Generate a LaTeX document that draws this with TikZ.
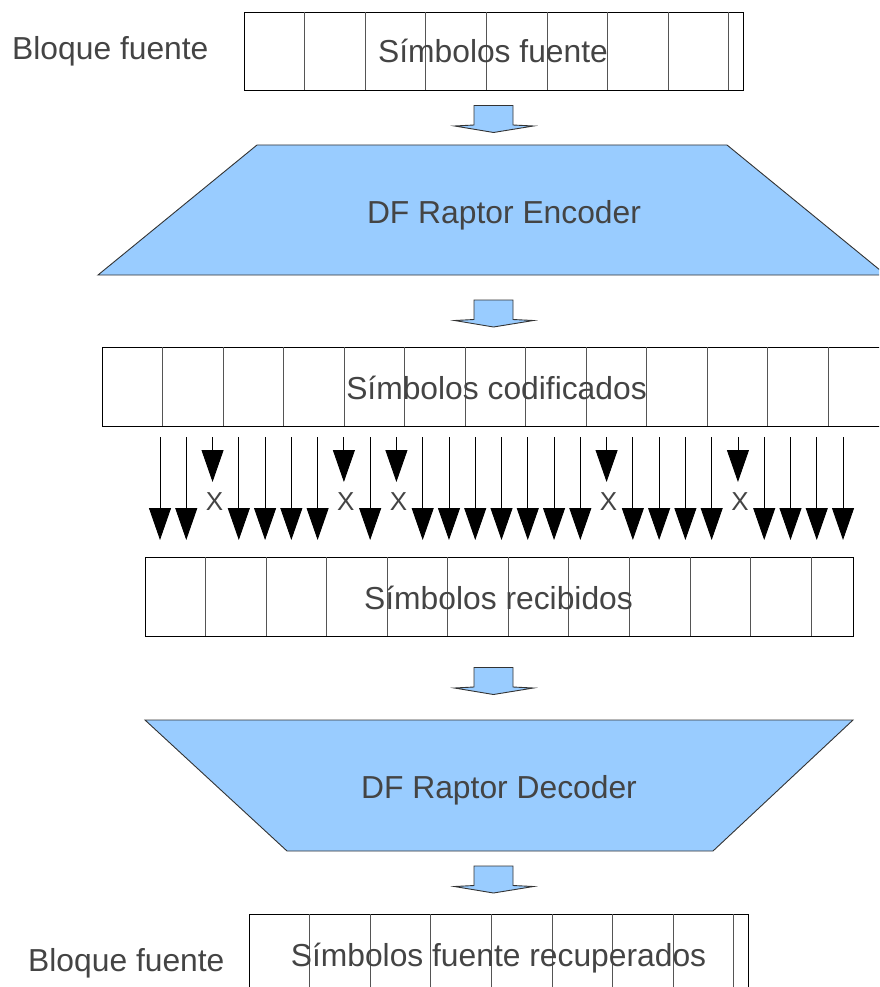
\documentclass[tikz,border=0pt]{standalone}
\usepackage{fontspec}
\setmainfont{Liberation Sans}
\usetikzlibrary{arrows.meta}
\definecolor{txt}{HTML}{444444}
\definecolor{fillblue}{HTML}{99CCFF}
\definecolor{edgec}{HTML}{333333}
\definecolor{cellc}{HTML}{555555}
\begin{document}
\begin{tikzpicture}[x=1pt,y=-1pt,
  lbl/.style={font=\fontsize{31.8}{38}\selectfont, text=txt, inner sep=0pt},
  xlbl/.style={font=\fontsize{26}{30}\selectfont, text=txt, inner sep=0pt},
  boxnode/.style={draw=black, line width=0.9pt, inner sep=0pt, anchor=north west},
  cellline/.style={draw=cellc, line width=0.9pt},
  trap/.style={draw=edgec, line width=0.9pt, fill=fillblue, line join=miter},
  barrow/.style={draw=edgec, line width=0.9pt, fill=fillblue, line join=miter},
  dnarrow/.style={draw=black, line width=0.9pt, -{Triangle[width=22pt,length=32pt]}}
]
\useasboundingbox (0,0) rectangle (879,987);
\clip (0,0) rectangle (879,987);

% ---------- top source block ----------
\node[boxnode, minimum width=499pt, minimum height=78pt] (src) at (244,12) {};
\foreach \i in {1,...,8} \draw[cellline] (244+\i*60.6,12) -- (244+\i*60.6,90);
\node[lbl, anchor=base] (srct) at (493,63) {Símbolos fuente};
\node[lbl, anchor=base west] (srcl) at (12,60) {Bloque fuente};

% ---------- block arrow 1 ----------
\draw[barrow, shift={(493.5,105.5)}] (-19.5,0) -- (19.5,0) -- (19.5,19.5) -- (40,20.5) -- (0,27) -- (-39,20.5) -- (-19.5,19.5) -- cycle;

% ---------- encoder ----------
\draw[trap] (257,145) -- (727,145) -- (886,275) -- (98,275) -- cycle;
\node[lbl, anchor=base] (enc) at (504,223) {DF Raptor Encoder};

% ---------- block arrow 2 ----------
\draw[barrow, shift={(493.5,300)}] (-19.5,0) -- (19.5,0) -- (19.5,19.5) -- (40,20.5) -- (0,27) -- (-39,20.5) -- (-19.5,19.5) -- cycle;

% ---------- encoded symbols ----------
\node[boxnode, minimum width=786.5pt, minimum height=79pt] (cod) at (102,347) {};
\foreach \i in {1,...,12} \draw[cellline] (102+\i*60.5,347) -- (102+\i*60.5,426);
\node[lbl, anchor=base] (codt) at (496.5,399) {Símbolos codificados};

% ---------- transmission arrows ----------
\foreach \k in {0,1,3,4,5,6,8,10,11,12,13,14,15,16,18,19,20,21,23,24,25,26}
  \draw[dnarrow] (160+\k*26.27,437) -- (160+\k*26.27,540);
\foreach \k [count=\n] in {2,7,9,17,22} {
  \draw[dnarrow] (160+\k*26.27,437) -- (160+\k*26.27,482);
  \node[xlbl, anchor=base] (x\n) at (162+\k*26.27,510) {X};
}

% ---------- received symbols ----------
\node[boxnode, minimum width=708pt, minimum height=79pt] (rec) at (145,557) {};
\foreach \i in {1,...,11} \draw[cellline] (145+\i*60.55,557) -- (145+\i*60.55,636);
\node[lbl, anchor=base] (rect) at (498.5,609) {Símbolos recibidos};

% ---------- block arrow 3 ----------
\draw[barrow, shift={(493.5,667.5)}] (-19.5,0) -- (19.5,0) -- (19.5,19.5) -- (40,20.5) -- (0,27) -- (-39,20.5) -- (-19.5,19.5) -- cycle;

% ---------- decoder ----------
\draw[trap] (145,720) -- (853,720) -- (713,851) -- (287,851) -- cycle;
\node[lbl, anchor=base] (dec) at (499,798) {DF Raptor Decoder};

% ---------- block arrow 4 ----------
\draw[barrow, shift={(493.5,866)}] (-19.5,0) -- (19.5,0) -- (19.5,19.5) -- (40,20.5) -- (0,27) -- (-39,20.5) -- (-19.5,19.5) -- cycle;

% ---------- recovered block ----------
\node[boxnode, minimum width=499pt, minimum height=78pt] (out) at (249,914) {};
\foreach \i in {1,...,8} \draw[cellline] (249+\i*60.6,914) -- (249+\i*60.6,992);
\node[lbl, anchor=base] (outt) at (498.5,966) {Símbolos fuente recuperados};
\node[lbl, anchor=base west] (outl) at (28,971) {Bloque fuente};
\end{tikzpicture}
\end{document}
